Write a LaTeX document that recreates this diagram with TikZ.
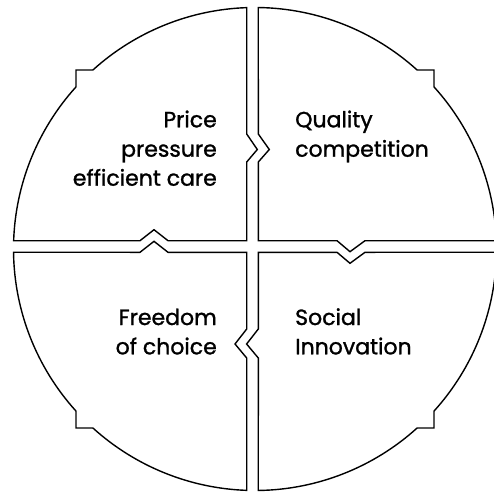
\documentclass[tikz,border=0pt]{standalone}
\usepackage{fontspec}
\newfontfamily\geofont[FakeBold=1.2]{Poppins}
\begin{document}
\begin{tikzpicture}[x=1pt,y=1pt,
  quad/.style={draw=black, line width=1.4pt, line join=miter},
  lblr/.style={font=\geofont\fontsize{22}{29}\selectfont, inner sep=0pt, anchor=base east},
  lbll/.style={font=\geofont\fontsize{22}{29}\selectfont, inner sep=0pt, anchor=base west}]
\useasboundingbox (0,0) rectangle (494,493);
\clip (0,0) rectangle (494,493);
\fill[white] (0,0) rectangle (494,493);
\begin{scope}[shift={(255,244)}]
% top-left quadrant
\draw[quad] (91.97:241.5) -- (-8.3,115) -- (2.3,99.5) -- (-8.3,87) -- (-8.3,8.3)
  -- (-87,8.3) -- (-101,19.3) -- (-115,8.3) -- (178.03:241.5)
  arc[start angle=178.03, end angle=137.84, radius=241.5]
  -- (-179,179) -- (132.16:241.5)
  arc[start angle=132.16, end angle=91.97, radius=241.5] -- cycle;
% top-right quadrant
\draw[quad] (89.22:241.5)
  arc[start angle=89.22, end angle=47.84, radius=241.5]
  -- (179,179) -- (42.16:241.5)
  arc[start angle=42.16, end angle=1.97, radius=241.5]
  -- (110,8.3) -- (95,-2.7) -- (82,8.3) -- (3.3,8.3)
  -- (3.3,87) -- (14.3,99.5) -- (3.3,115) -- cycle;
% bottom-left quadrant
\draw[quad] (180.78:241.5) -- (-115,-3.3) -- (-101,7.7) -- (-87,-3.3) -- (-8.3,-3.3)
  -- (-8.3,-80) -- (-20,-95) -- (-8.3,-109) -- (268.03:241.5)
  arc[start angle=268.03, end angle=227.84, radius=241.5]
  -- (-179,-179) -- (222.16:241.5)
  arc[start angle=222.16, end angle=180.78, radius=241.5] -- cycle;
% bottom-right quadrant
\draw[quad] (270.78:241.5)
  arc[start angle=270.78, end angle=312.16, radius=241.5]
  -- (179,-179) -- (317.84:241.5)
  arc[start angle=317.84, end angle=359.22, radius=241.5]
  -- (110,-3.3) -- (95,-14.3) -- (82,-3.3) -- (3.3,-3.3)
  -- (3.3,-80) -- (-8.4,-95) -- (3.3,-109) -- cycle;
% labels
\node[lblr] (tl1) at (-38,121.7) {Price};
\node[lblr] (tl2) at (-38,92.3) {pressure};
\node[lblr] (tl3) at (-38,63.3) {efficient care};
\node[lbll] (tr1) at (40,121.7) {Quality};
\node[lbll] (tr2) at (40,92.3) {competition};
\node[lblr] (bl1) at (-38,-76) {Freedom};
\node[lblr] (bl2) at (-38,-105.3) {of choice};
\node[lbll] (br1) at (40,-76) {Social};
\node[lbll] (br2) at (40,-105.3) {Innovation};
\end{scope}
\end{tikzpicture}
\end{document}
